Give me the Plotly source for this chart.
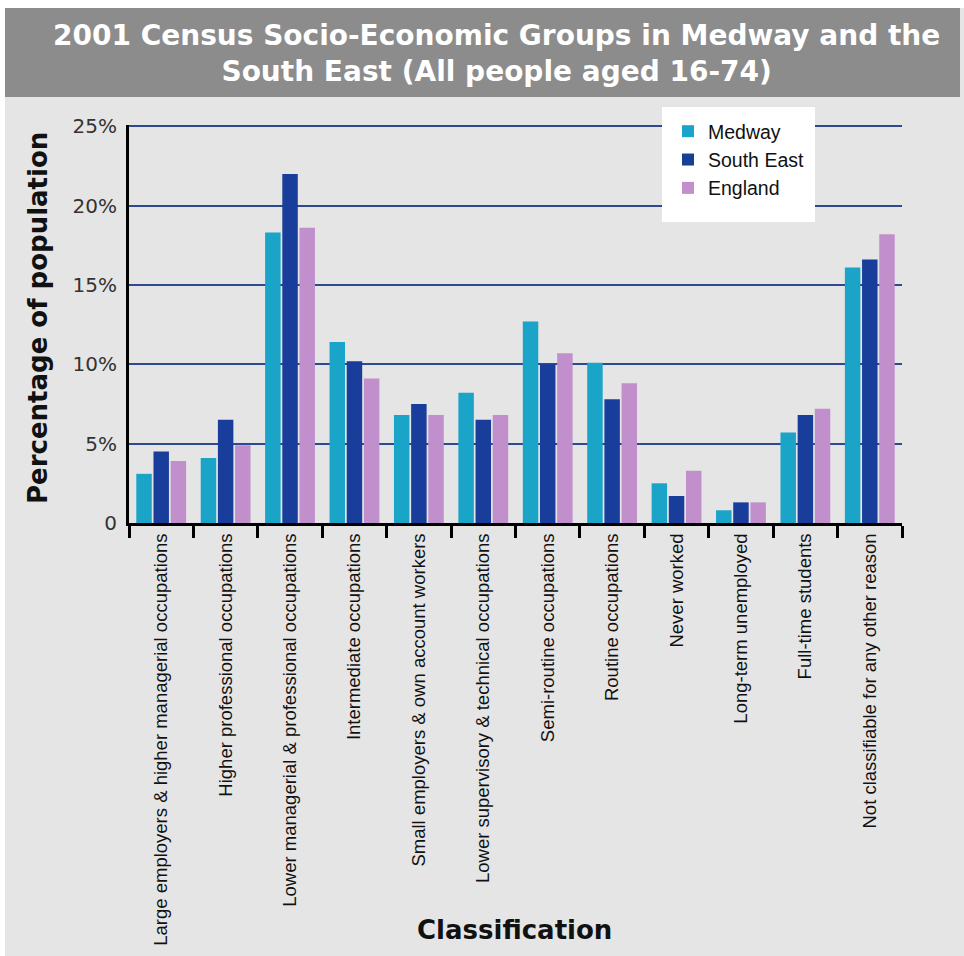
import plotly.graph_objects as go

# Socio-economic classification (NS-SeC), 2001 Census, all people aged 16-74
categories = [
    "Large employers & higher managerial occupations",
    "Higher professional occupations",
    "Lower managerial & professional occupations",
    "Intermediate occupations",
    "Small employers & own account workers",
    "Lower supervisory & technical occupations",
    "Semi-routine occupations",
    "Routine occupations",
    "Never worked",
    "Long-term unemployed",
    "Full-time students",
    "Not classifiable for any other reason",
]

medway = [3.1, 4.1, 18.3, 11.4, 6.8, 8.2, 12.7, 10.1, 2.5, 0.8, 5.7, 16.1]
south_east = [4.5, 6.5, 22.0, 10.2, 7.5, 6.5, 10.0, 7.8, 1.7, 1.3, 6.8, 16.6]
england = [3.9, 4.9, 18.6, 9.1, 6.8, 6.8, 10.7, 8.8, 3.3, 1.3, 7.2, 18.2]

series_names = ["Medway", "South East", "England"]
series_colors = ["#19a4c8", "#183d9a", "#c18fcc"]

y_tickvals = [0, 5, 10, 15, 20, 25]
y_ticktext = ["0", "5%", "10%", "15%", "20%", "25%"]

W, H = 964, 956
L, R, T, B = 129, 62, 125, 433
PW, PH = W - L - R, H - T - B


def px_x(px):
    return (px - L) / PW


def px_y(py):
    return (H - B - py) / PH


WIDE = "DejaVu Sans, sans-serif"
PLAIN = "Liberation Sans, Arial, sans-serif"

fig = go.Figure()
for name, vals, col in zip(series_names, [medway, south_east, england], series_colors):
    fig.add_trace(go.Bar(x=categories, y=vals, name=name, marker=dict(color=col, line=dict(width=0))))

shapes = [
    # light grey page panel
    dict(type="rect", xref="paper", yref="paper", layer="below",
         x0=px_x(5), x1=px_x(964), y0=px_y(956), y1=px_y(8),
         fillcolor="#e5e5e5", line=dict(width=0)),
    # title band
    dict(type="rect", xref="paper", yref="paper", layer="below",
         x0=px_x(5), x1=px_x(960), y0=px_y(97), y1=px_y(8),
         fillcolor="#8c8c8c", line=dict(width=0)),
    # white box behind the legend
    dict(type="rect", xref="paper", yref="paper", layer="above",
         x0=px_x(662), x1=px_x(815), y0=px_y(222), y1=px_y(107),
         fillcolor="white", line=dict(width=0)),
]

annotations = [
    dict(text="<b>2001 Census Socio-Economic Groups in Medway and the<br>South East (All people aged 16-74)</b>",
         xref="paper", yref="paper", x=px_x(496), y=px_y(53), xanchor="center", yanchor="middle",
         showarrow=False, font=dict(family=WIDE, size=28, color="white"), align="center"),
    dict(text="<b>Percentage of population</b>", xref="paper", yref="paper",
         x=px_x(38), y=px_y(318), xanchor="center", yanchor="middle", textangle=-90,
         showarrow=False, font=dict(family=WIDE, size=26, color="#111111")),
    dict(text="<b>Classification</b>", xref="paper", yref="paper",
         x=px_x(514), y=px_y(930), xanchor="center", yanchor="middle",
         showarrow=False, font=dict(family=WIDE, size=26, color="#111111")),
]

fig.update_layout(
    width=W, height=H,
    margin=dict(l=L, r=R, t=T, b=B, autoexpand=False),
    paper_bgcolor="white",
    plot_bgcolor="rgba(0,0,0,0)",
    barmode="group",
    bargap=0.2,
    bargroupgap=0.1,
    font=dict(family=WIDE, color="#111111"),
    shapes=shapes,
    annotations=annotations,
    showlegend=True,
    legend=dict(x=px_x(668), y=px_y(112), xanchor="left", yanchor="top",
                bgcolor="white", borderwidth=0, font=dict(family=PLAIN, size=19.5, color="#111111"),
                tracegroupgap=0, itemsizing="constant"),
)

fig.update_xaxes(
    showline=True, linecolor="black", linewidth=3,
    ticks="outside", tickson="boundaries", ticklen=12, tickwidth=3, tickcolor="black",
    tickangle=-90, tickfont=dict(family=PLAIN, size=18.5, color="#111111"),
    showgrid=False, automargin=False,
)
fig.update_yaxes(
    range=[0, 25.08], tickvals=y_tickvals, ticktext=y_ticktext,
    showline=True, linecolor="black", linewidth=3,
    showgrid=True, gridcolor="#2b4a92", gridwidth=2,
    zeroline=False,
    ticks="outside", ticklen=5, tickcolor="rgba(0,0,0,0)",
    tickfont=dict(family=WIDE, size=20, color="#333333"),
    automargin=False,
)

fig.write_html("out.html")
